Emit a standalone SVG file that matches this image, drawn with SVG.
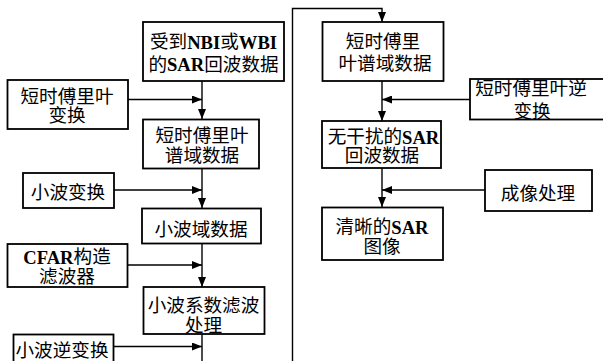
<svg xmlns="http://www.w3.org/2000/svg" width="603" height="361" viewBox="0 0 603 361">
<style>
.box{fill:#fff;stroke:#000;stroke-width:1.8}
.ln{fill:none;stroke:#000;stroke-width:1.4}
text{font-family:"Liberation Serif","Noto Sans CJK SC",serif;font-size:18.6px;fill:#000;text-anchor:middle;dominant-baseline:central}
.b{font-weight:bold}
</style>
<defs>
<marker id="ah" viewBox="0 0 10 8" refX="10" refY="4" markerWidth="10" markerHeight="8" markerUnits="userSpaceOnUse" orient="auto">
<path d="M0,0 L10,4 L0,8 Z" fill="#000"/>
</marker>
</defs>
<rect width="603" height="361" fill="#fff"/>
<g id="connectors">
<path class="ln" d="M202,81 V119" marker-end="url(#ah)"/>
<path class="ln" d="M128,99.5 H202" marker-end="url(#ah)"/>
<path class="ln" d="M202,168 V208" marker-end="url(#ah)"/>
<path class="ln" d="M114,190 H202" marker-end="url(#ah)"/>
<path class="ln" d="M202,243 V287" marker-end="url(#ah)"/>
<path class="ln" d="M128,265 H202" marker-end="url(#ah)"/>
<path class="ln" d="M202,334 V361"/>
<path class="ln" d="M113,346.5 H202" marker-end="url(#ah)"/>
<path class="ln" d="M292.5,361 V8.5 H382 V22" marker-end="url(#ah)"/>
<path class="ln" d="M382,81 V121" marker-end="url(#ah)"/>
<path class="ln" d="M470,99.5 H382" marker-end="url(#ah)"/>
<path class="ln" d="M382,168 V207" marker-end="url(#ah)"/>
<path class="ln" d="M485,190 H382" marker-end="url(#ah)"/>
</g>
<g id="n1"><rect class="box" x="143" y="22" width="141" height="59"/>
<text x="213.5" y="41.7">受到<tspan class="b">NBI</tspan>或<tspan class="b">WBI</tspan></text>
<text x="213.5" y="64">的<tspan class="b">SAR</tspan>回波数据</text></g>
<g id="n2"><rect class="box" x="7.5" y="80" width="120.5" height="49"/>
<text x="67" y="96">短时傅里叶</text><text x="67" y="115">变换</text></g>
<g id="n3"><rect class="box" x="143" y="119.5" width="116" height="49"/>
<text x="202" y="135.5">短时傅里叶</text><text x="202" y="155">谱域数据</text></g>
<g id="n4"><rect class="box" x="23" y="173" width="91" height="35"/>
<text x="68" y="192.7">小波变换</text></g>
<g id="n5"><rect class="box" x="142" y="208.5" width="119" height="35"/>
<text x="201" y="229">小波域数据</text></g>
<g id="n6"><rect class="box" x="7.5" y="244" width="120" height="43"/>
<text x="67" y="256.5"><tspan class="b">CFAR</tspan>构造</text><text x="67" y="276.7">滤波器</text></g>
<g id="n7"><rect class="box" x="143.5" y="287" width="121" height="47"/>
<text x="203.5" y="305">小波系数滤波</text><text x="203.5" y="325">处理</text></g>
<g id="n8"><rect class="box" x="13.5" y="334.5" width="100" height="30"/>
<text x="62" y="350">小波逆变换</text></g>
<g id="n9"><rect class="box" x="322.5" y="22" width="121" height="59"/>
<text x="383" y="41.7">短时傅里</text><text x="385" y="63.5">叶谱域数据</text></g>
<g id="n10"><rect class="box" x="470" y="79" width="136" height="40.5"/>
<text x="531" y="88">短时傅里叶逆</text><text x="532" y="111.5">变换</text></g>
<g id="n11"><rect class="box" x="322" y="121" width="119" height="47"/>
<text x="383.5" y="136.7">无干扰的<tspan class="b">SAR</tspan></text><text x="382" y="155">回波数据</text></g>
<g id="n12"><rect class="box" x="485" y="170" width="107" height="41"/>
<text x="538" y="193.3">成像处理</text></g>
<g id="n13"><rect class="box" x="322" y="207.5" width="121" height="52.5"/>
<text x="382" y="226.7">清晰的<tspan class="b">SAR</tspan></text><text x="382" y="246.7">图像</text></g>
</svg>
